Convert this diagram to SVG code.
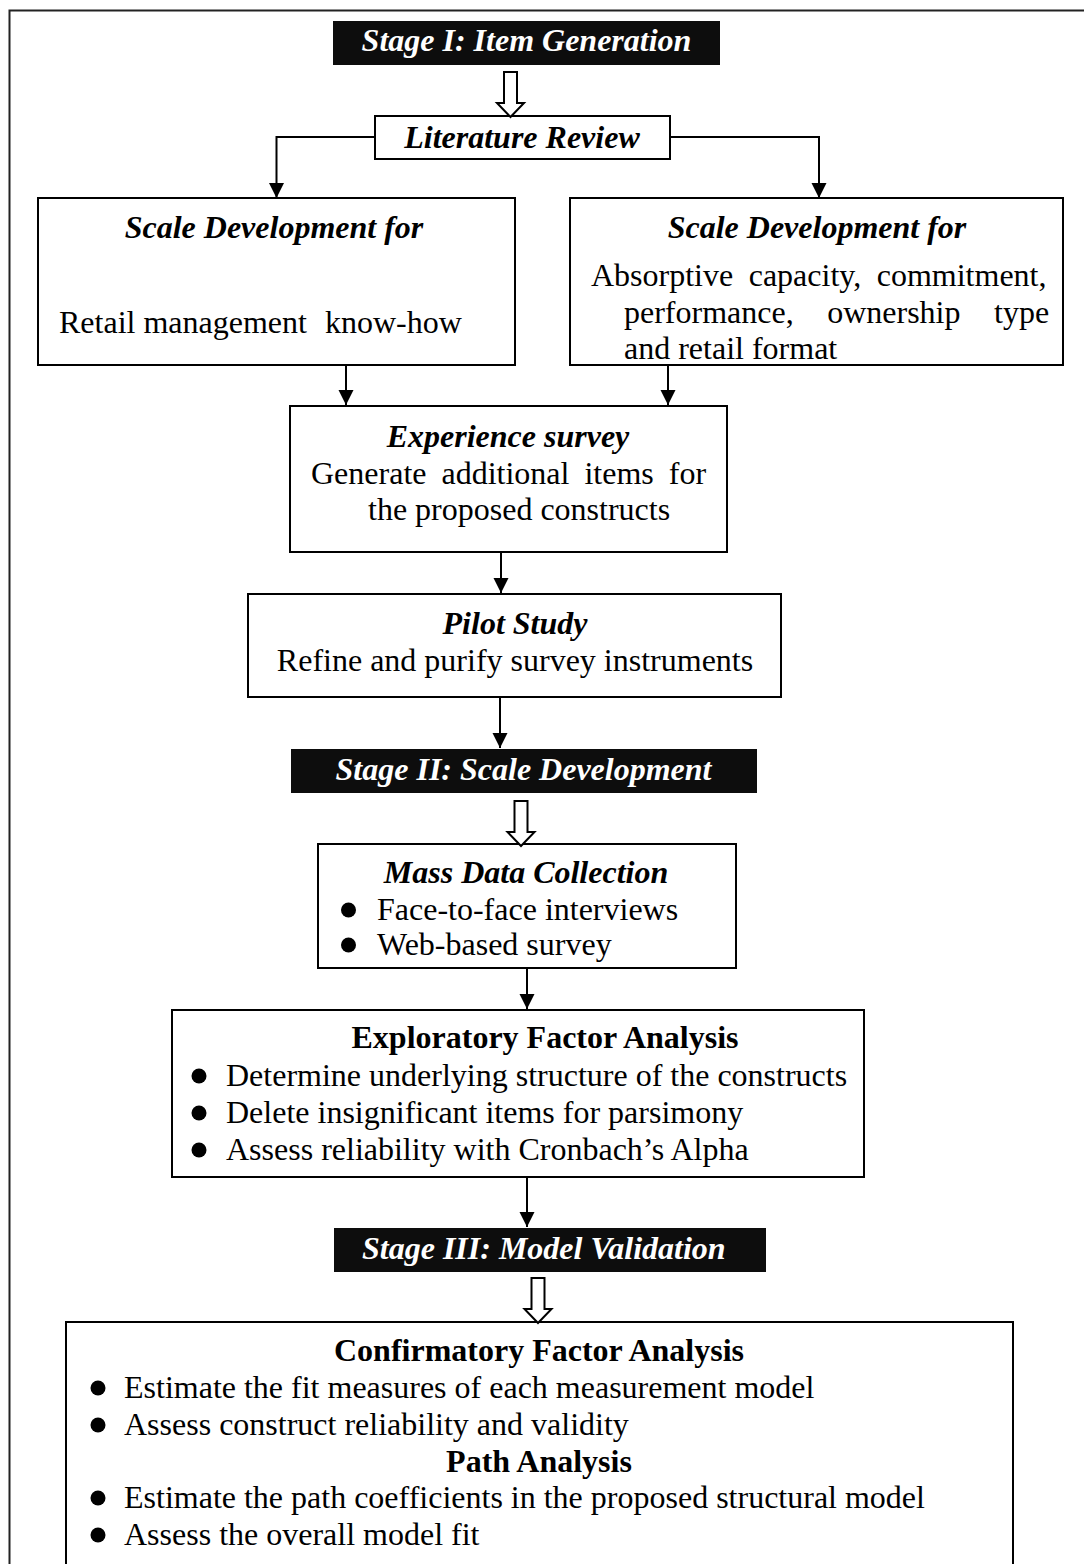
<svg xmlns="http://www.w3.org/2000/svg" width="1084" height="1564" viewBox="0 0 1084 1564">
<style>
  text { font-family: "Liberation Serif", "Times New Roman", serif; font-size: 32px; fill: #000; }
  .bi { font-weight: bold; font-style: italic; }
  .b { font-weight: bold; }
  .mid { text-anchor: middle; }
  .stage rect { fill: #0d0d0d; }
  .stage text { fill: #fff; }
  .box rect { fill: #fff; stroke: #000; stroke-width: 2; }
  .conn path { fill: none; stroke: #000; stroke-width: 2; }
  .hollow { fill: #fff; stroke: #000; stroke-width: 2; }
  .dot { fill: #000; }
  .frame { fill: none; stroke: #222; stroke-width: 2; }
</style>
<defs>
  <marker id="arrow" markerUnits="userSpaceOnUse" markerWidth="16" markerHeight="16" refX="15" refY="7.5" orient="auto">
    <path d="M0,0 L15,7.5 L0,15 z" fill="#000"/>
  </marker>
  <path id="hollowArrow" d="M-6.5,0 H6.5 V31 H13.5 L0,45 L-13.5,31 H-6.5 Z"/>
</defs>

<rect width="1084" height="1564" fill="#fff"/>
<path class="frame" d="M9.5,1570 V10.5 H1090"/>

<!-- Stage I -->
<g id="stage1" class="stage">
  <rect x="333" y="21" width="387" height="44"/>
  <text class="bi mid" x="526.5" y="51">Stage I: Item Generation</text>
</g>

<g id="literature-review" class="box">
  <rect x="375" y="116" width="295" height="43"/>
  <text class="bi mid" x="522" y="148">Literature Review</text>
</g>

<g id="scale-dev-knowhow" class="box">
  <rect x="38" y="198" width="477" height="167"/>
  <text class="bi mid" x="274" y="238">Scale Development for</text>
  <text x="59" y="333">Retail management</text>
  <text x="325" y="333">know-how</text>
</g>

<g id="scale-dev-other" class="box">
  <rect x="570" y="198" width="493" height="167"/>
  <text class="bi mid" x="817" y="238">Scale Development for</text>
  <text x="591" y="286" word-spacing="7.5">Absorptive capacity, commitment,</text>
  <text x="624" y="323" word-spacing="25.5">performance, ownership type</text>
  <text x="624" y="359">and retail format</text>
</g>

<g id="experience-survey" class="box">
  <rect x="290" y="406" width="437" height="146"/>
  <text class="bi mid" x="508" y="447">Experience survey</text>
  <text x="311" y="484" word-spacing="7">Generate additional items for</text>
  <text x="368" y="520">the proposed constructs</text>
</g>

<g id="pilot-study" class="box">
  <rect x="248" y="594" width="533" height="103"/>
  <text class="bi mid" x="515" y="634">Pilot Study</text>
  <text class="mid" x="515" y="671">Refine and purify survey instruments</text>
</g>

<!-- Stage II -->
<g id="stage2" class="stage">
  <rect x="291" y="749" width="466" height="44"/>
  <text class="bi mid" x="523.5" y="780">Stage II: Scale Development</text>
</g>

<g id="mass-data-collection" class="box">
  <rect x="318" y="844" width="418" height="124"/>
  <text class="bi mid" x="526" y="883">Mass Data Collection</text>
  <circle class="dot" cx="348.5" cy="910" r="7.5"/>
  <text x="377" y="920">Face-to-face interviews</text>
  <circle class="dot" cx="348.5" cy="945" r="7.5"/>
  <text x="377" y="955">Web-based survey</text>
</g>

<g id="exploratory-factor-analysis" class="box">
  <rect x="172" y="1010" width="692" height="167"/>
  <text class="b mid" x="545" y="1048">Exploratory Factor Analysis</text>
  <circle class="dot" cx="199" cy="1076" r="7.5"/>
  <text x="226" y="1086">Determine underlying structure of the constructs</text>
  <circle class="dot" cx="199" cy="1113" r="7.5"/>
  <text x="226" y="1123">Delete insignificant items for parsimony</text>
  <circle class="dot" cx="199" cy="1150" r="7.5"/>
  <text x="226" y="1160">Assess reliability with Cronbach’s Alpha</text>
</g>

<!-- Stage III -->
<g id="stage3" class="stage">
  <rect x="334" y="1228" width="432" height="44"/>
  <text class="bi" x="362" y="1259">Stage III: Model Validation</text>
</g>

<g id="confirmatory-and-path-analysis" class="box">
  <rect x="66" y="1322" width="947" height="262"/>
  <text class="b mid" x="539" y="1361">Confirmatory Factor Analysis</text>
  <circle class="dot" cx="98" cy="1388" r="7.5"/>
  <text x="124" y="1398">Estimate the fit measures of each measurement model</text>
  <circle class="dot" cx="98" cy="1425" r="7.5"/>
  <text x="124" y="1435">Assess construct reliability and validity</text>
  <text class="b mid" x="539" y="1472">Path Analysis</text>
  <circle class="dot" cx="98" cy="1498" r="7.5"/>
  <text x="124" y="1508">Estimate the path coefficients in the proposed structural model</text>
  <circle class="dot" cx="98" cy="1535" r="7.5"/>
  <text x="124" y="1545">Assess the overall model fit</text>
</g>

<!-- Connectors -->
<g id="connectors">
  <g class="conn">
    <path d="M375,137 H276.5 V198" marker-end="url(#arrow)"/>
    <path d="M670,137 H819 V198" marker-end="url(#arrow)"/>
    <path d="M346,365 V405" marker-end="url(#arrow)"/>
    <path d="M668,365 V405" marker-end="url(#arrow)"/>
    <path d="M501,552 V593" marker-end="url(#arrow)"/>
    <path d="M500,697 V748" marker-end="url(#arrow)"/>
    <path d="M527,968 V1009" marker-end="url(#arrow)"/>
    <path d="M527,1177 V1227" marker-end="url(#arrow)"/>
  </g>
  <g class="hollow">
    <use href="#hollowArrow" transform="translate(510.5,72)"/>
    <use href="#hollowArrow" transform="translate(521,801)"/>
    <use href="#hollowArrow" transform="translate(538,1278)"/>
  </g>
</g>
</svg>
